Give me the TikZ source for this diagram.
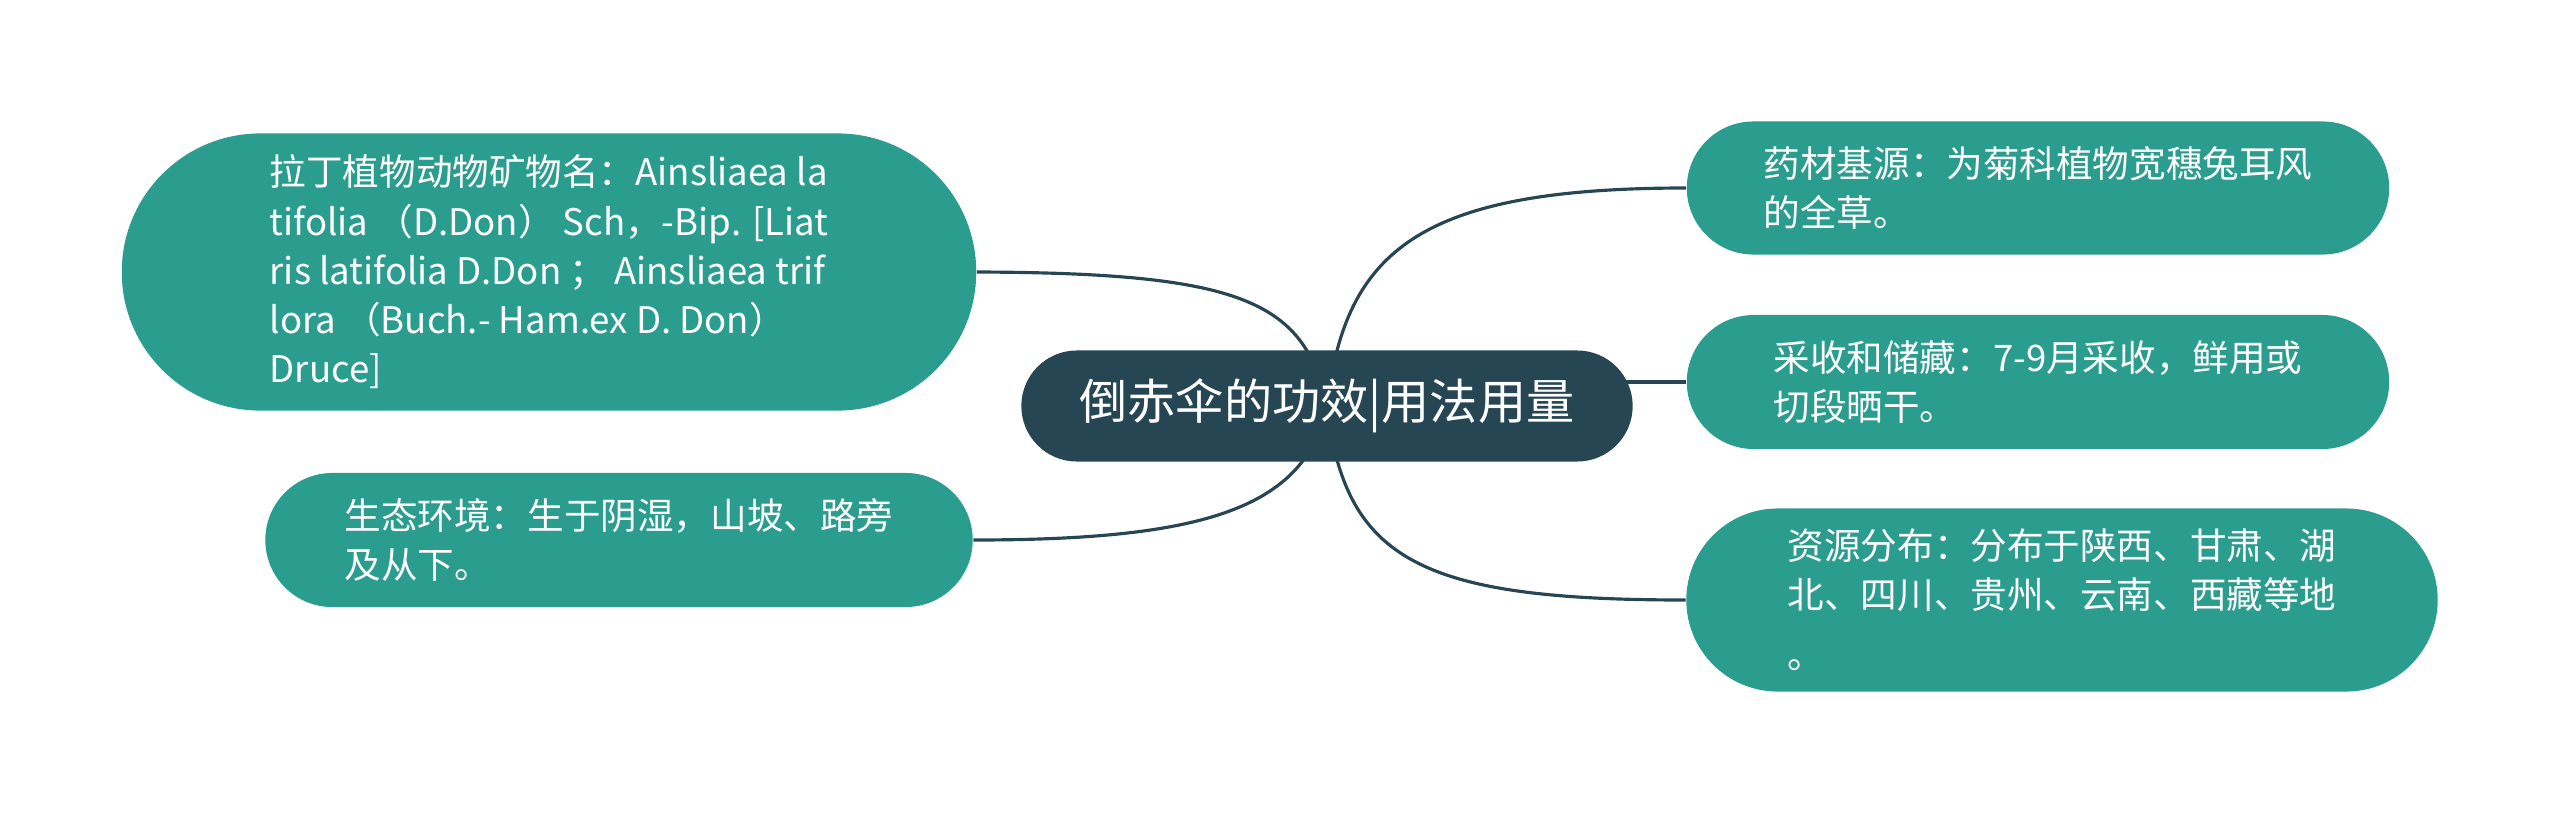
\documentclass[tikz,border=0pt]{standalone}
\usepackage{fontspec}
\newfontfamily\cjk{Noto Sans CJK SC}
\usetikzlibrary{shapes.misc}
\usetikzlibrary{backgrounds}
\definecolor{topicDark}{HTML}{264653}
\definecolor{topicTeal}{HTML}{2A9D8F}

\begin{document}
\begin{tikzpicture}[
    x=0.01cm, y=-0.01cm,
    mainTopic/.style={
        rounded rectangle, fill=topicDark, text=white,
        minimum width=6.11cm, minimum height=1.11cm,
        inner sep=0pt,
        font=\cjk\fontsize{13.7}{16}\selectfont
    },
    subTopic/.style={
        rounded rectangle, fill=topicTeal, text=white,
        inner sep=0pt, align=left,
        font=\cjk\fontsize{10.4}{14}\selectfont
    },
    link/.style={draw=topicDark, line width=0.9pt}
]
\useasboundingbox (0,0) rectangle (2560,815);
\node[mainTopic] (root) at (1327,406) {倒赤伞的功效|用法用量};
\node[subTopic, minimum width=8.54cm, minimum height=2.77cm] (latin) at (549,272)
    {拉丁植物动物矿物名：Ainsliaea la\\tifolia （D.Don） Sch，-Bip. [Liat\\ris latifolia D.Don ； Ainsliaea trif\\lora （Buch.- Ham.ex D. Don）\\Druce]};
\node[subTopic, minimum width=7.07cm, minimum height=1.34cm] (habitat) at (619,540)
    {生态环境：生于阴湿，山坡、路旁\\及从下。};
\node[subTopic, minimum width=7.02cm, minimum height=1.33cm] (source) at (2038,188)
    {药材基源：为菊科植物宽穗兔耳风\\的全草。};
\node[subTopic, minimum width=7.02cm, minimum height=1.34cm] (harvest) at (2038,382)
    {采收和储藏：7-9月采收，鲜用或\\切段晒干。};
\node[subTopic, minimum width=7.51cm, minimum height=1.83cm] (region) at (2062,600)
    {资源分布：分布于陕西、甘肃、湖\\北、四川、贵州、云南、西藏等地\\[3pt]。};
% connectors behind the topics
\begin{scope}[on background layer]
\draw[link] (latin.east) .. controls (1240,273) and (1305,300) .. (root.center);
\draw[link] (habitat.east) .. controls (1200,540) and (1305,510) .. (root.center);
\draw[link] (root.center) .. controls (1345,250) and (1420,188) .. (source.west);
\draw[link] (harvest.west) -- (harvest.west -| root.center);
\draw[link] (root.center) .. controls (1345,560) and (1420,600) .. (region.west);
\end{scope}
\end{tikzpicture}
\end{document}
